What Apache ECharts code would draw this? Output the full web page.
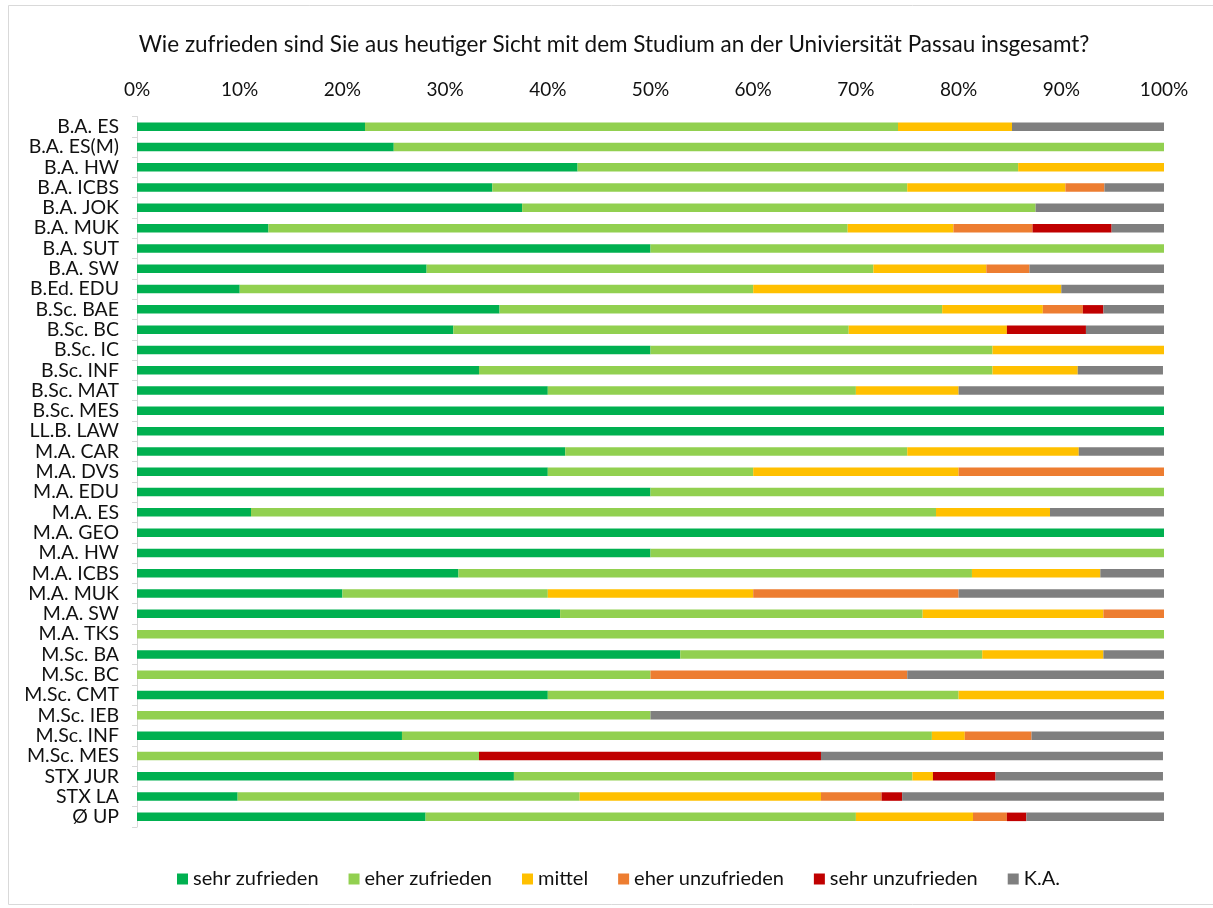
<!DOCTYPE html>
<html>
<head>
<meta charset="utf-8">
<script src="https://cdn.jsdelivr.net/npm/echarts@6/dist/echarts.min.js"></script>
<style>html,body{margin:0;padding:0;background:#fff}#chart{width:1213px;height:908px}</style>
</head>
<body>
<div id="chart"></div>
<script>
const categories = ["B.A. ES","B.A. ES(M)","B.A. HW","B.A. ICBS","B.A. JOK","B.A. MUK","B.A. SUT","B.A. SW","B.Ed. EDU","B.Sc. BAE","B.Sc. BC","B.Sc. IC","B.Sc. INF","B.Sc. MAT","B.Sc. MES","LL.B. LAW","M.A. CAR","M.A. DVS","M.A. EDU","M.A. ES","M.A. GEO","M.A. HW","M.A. ICBS","M.A. MUK","M.A. SW","M.A. TKS","M.Sc. BA","M.Sc. BC","M.Sc. CMT","M.Sc. IEB","M.Sc. INF","M.Sc. MES","STX JUR","STX LA","Ø UP"];
const seriesNames = ["sehr zufrieden","eher zufrieden","mittel","eher unzufrieden","sehr unzufrieden","K.A."];
const sehrZufrieden   = [22.2,25,42.9,34.6,37.5,12.8,50,28.2,10,35.3,30.8,50,33.3,40,100,100,41.7,40,50,11.1,100,50,31.3,20,41.2,0,52.9,0,40,0,25.8,0,36.7,9.8,28.1];
const eherZufrieden   = [51.9,75,42.9,40.4,50,56.4,50,43.5,50,43.1,38.5,33.3,50,30,0,0,33.3,20,50,66.7,0,50,50,20,35.3,100,29.4,50,40,50,51.6,33.3,38.8,33.3,41.9];
const mittel          = [11.1,0,14.3,15.4,0,10.3,0,11.0,30,9.8,15.4,16.7,8.3,10,0,0,16.7,20,0,11.1,0,0,12.5,20,17.6,0,11.8,0,20,0,3.2,0,2.0,23.5,11.4];
const eherUnzufrieden = [0,0,0,3.8,0,7.7,0,4.2,0,3.9,0,0,0,0,0,0,0,20,0,0,0,0,0,20,5.9,0,0,25,0,0,6.5,0,0,5.9,3.3];
const sehrUnzufrieden = [0,0,0,0,0,7.7,0,0,0,2.0,7.7,0,0,0,0,0,0,0,0,0,0,0,0,0,0,0,0,0,0,0,0,33.3,6.1,2.0,1.9];
const keineAngabe     = [14.8,0,0,5.8,12.5,5.1,0,13.1,10,5.9,7.7,0,8.3,20,0,0,8.3,0,0,11.1,0,0,6.3,20,0,0,5.9,25,0,50,12.9,33.3,16.3,25.5,13.4];
const xTicks = [0,10,20,30,40,50,60,70,80,90,100];
const colors = ["#00B050","#92D050","#FFC000","#ED7D31","#C00000","#7F7F7F"];

const values = [sehrZufrieden, eherZufrieden, mittel, eherUnzufrieden, sehrUnzufrieden, keineAngabe];
const FONT = 'Lato';
const chart = echarts.init(document.getElementById('chart'), null, {renderer:'canvas'});
chart.setOption({
  animation: false,
  backgroundColor: '#fff',
  color: colors,
  title: {
    text: 'Wie zufrieden sind Sie aus heutiger Sicht mit dem Studium an der Univiersität Passau insgesamt?',
    left: 609, top: 28, textAlign: 'center',
    textStyle: {fontFamily: FONT, fontSize: 22.5, fontWeight: 'normal', color: '#111'}
  },
  graphic: [{
    type: 'rect', shape: {x: 8.5, y: 5.5, width: 1210, height: 899},
    style: {fill: 'none', stroke: '#D9D9D9', lineWidth: 1}, silent: true, z: -1
  }],
  legend: {
    data: seriesNames, left: 172, top: 864, itemWidth: 11, itemHeight: 11, itemGap: 30,
    icon: 'rect',
    textStyle: {fontFamily: FONT, fontSize: 20, color: '#111'}
  },
  grid: {left: 137, right: 49, top: 116.5, bottom: 81, containLabel: false},
  xAxis: {
    type: 'value', position: 'top', min: xTicks[0], max: xTicks[xTicks.length-1], interval: 10,
    axisLine: {show: false}, axisTick: {show: false}, splitLine: {show: false},
    axisLabel: {formatter: '{value}%', fontFamily: FONT, fontSize: 19, color: '#111', margin: 17}
  },
  yAxis: {
    type: 'category', data: categories, inverse: true,
    axisLine: {show: true, lineStyle: {color: '#D9D9D9', width: 1}},
    axisTick: {show: true, length: 5, lineStyle: {color: '#D9D9D9'}},
    axisLabel: {fontFamily: FONT, fontSize: 19.5, color: '#111', margin: 18, interval: 0}
  },
  series: seriesNames.map((n, i) => ({
    name: n, type: 'bar', stack: 'total', barWidth: '42%', data: values[i],
    itemStyle: {color: colors[i]}
  }))
});
</script>
</body>
</html>
